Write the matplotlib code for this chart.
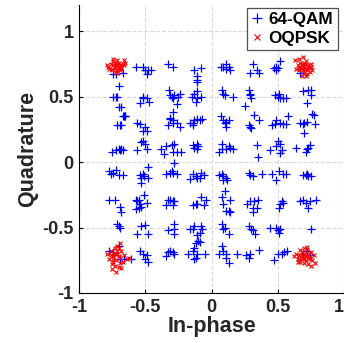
import matplotlib
matplotlib.use("Agg")
import matplotlib.pyplot as plt

plt.rcParams['font.family'] = ['Liberation Sans', 'DejaVu Sans']
plt.rcParams['font.weight'] = 'bold'

# 64-QAM received symbols, one list per constellation row (I, Q)
qam_row1 = [(-0.74, 0.67), (-0.72, 0.67), (-0.67, 0.68),
            (-0.57, 0.73), (-0.52, 0.73), (-0.50, 0.70), (-0.48, 0.70), (-0.46, 0.70), (-0.49, 0.67),
            (-0.33, 0.75), (-0.29, 0.73),
            (-0.13, 0.70), (-0.08, 0.72), (-0.11, 0.66), (-0.11, 0.63), (-0.11, 0.61),
            (0.07, 0.73), (0.09, 0.73), (0.11, 0.75), (0.13, 0.73), (0.14, 0.70), (0.11, 0.71),
            (0.31, 0.75), (0.29, 0.68), (0.34, 0.70), (0.36, 0.68),
            (0.47, 0.72), (0.49, 0.70), (0.50, 0.72), (0.52, 0.77), (0.49, 0.73),
            (0.67, 0.68), (0.70, 0.72)]
qam_row2 = [(-0.74, 0.50), (-0.72, 0.50), (-0.71, 0.50), (-0.70, 0.42), (-0.70, 0.58), (-0.68, 0.42),
            (-0.66, 0.35), (-0.65, 0.35),
            (-0.54, 0.45), (-0.52, 0.49), (-0.49, 0.49), (-0.47, 0.46), (-0.52, 0.50),
            (-0.32, 0.55), (-0.31, 0.51), (-0.30, 0.50), (-0.29, 0.49), (-0.28, 0.51), (-0.26, 0.44),
            (-0.25, 0.50), (-0.24, 0.52), (-0.31, 0.34), (-0.29, 0.32),
            (-0.15, 0.50), (-0.13, 0.52), (-0.11, 0.54), (-0.11, 0.49), (-0.12, 0.46), (-0.08, 0.50),
            (0.08, 0.55), (0.09, 0.52), (0.10, 0.51), (0.16, 0.50),
            (0.25, 0.43), (0.28, 0.55), (0.29, 0.51), (0.30, 0.49), (0.29, 0.52),
            (0.48, 0.51), (0.50, 0.50), (0.52, 0.49), (0.54, 0.49), (0.56, 0.49), (0.51, 0.52),
            (0.69, 0.54), (0.73, 0.55), (0.75, 0.55), (0.75, 0.51), (0.72, 0.45), (0.77, 0.36)]
qam_row3 = [(-0.71, 0.28), (-0.69, 0.28), (-0.68, 0.28), (-0.67, 0.35), (-0.65, 0.35),
            (-0.56, 0.30), (-0.54, 0.29), (-0.50, 0.27), (-0.49, 0.24), (-0.52, 0.24),
            (-0.33, 0.28), (-0.31, 0.33), (-0.29, 0.38), (-0.29, 0.30), (-0.26, 0.30), (-0.24, 0.27),
            (-0.16, 0.30), (-0.14, 0.30), (-0.13, 0.32), (-0.11, 0.33), (-0.09, 0.32), (-0.07, 0.33), (-0.14, 0.28),
            (0.07, 0.35), (0.09, 0.32), (0.11, 0.31), (0.11, 0.27), (0.13, 0.32), (0.10, 0.30),
            (0.28, 0.28), (0.29, 0.27), (0.30, 0.26), (0.32, 0.36), (0.36, 0.32),
            (0.46, 0.28), (0.48, 0.29), (0.49, 0.32), (0.52, 0.30), (0.54, 0.29), (0.56, 0.29), (0.58, 0.35),
            (0.67, 0.30), (0.69, 0.29), (0.70, 0.30), (0.72, 0.31), (0.70, 0.22), (0.76, 0.37), (0.78, 0.29)]
qam_row4 = [(-0.75, 0.08), (-0.72, 0.09), (-0.70, 0.10), (-0.69, 0.09), (-0.68, 0.10), (-0.67, 0.09),
            (-0.56, 0.09), (-0.53, 0.15), (-0.52, 0.16), (-0.50, 0.14), (-0.49, 0.10),
            (-0.38, 0.10), (-0.36, 0.06), (-0.34, 0.12), (-0.30, 0.13), (-0.28, 0.14), (-0.29, 0.08),
            (-0.26, 0.08), (-0.23, 0.08),
            (-0.14, 0.13), (-0.13, 0.11), (-0.11, 0.14), (-0.11, 0.10), (-0.10, 0.12),
            (0.06, 0.08), (0.08, 0.10), (0.08, 0.14), (0.11, 0.10), (0.13, 0.12), (0.14, 0.11), (0.16, 0.10),
            (0.34, 0.13), (0.35, 0.04),
            (0.44, 0.09), (0.49, 0.12), (0.50, 0.16), (0.52, 0.14), (0.52, 0.07), (0.53, 0.09),
            (0.64, 0.11), (0.71, 0.08), (0.72, 0.10), (0.73, 0.11), (0.74, 0.13)]
qam_row5 = [(-0.77, -0.07), (-0.76, -0.09), (-0.74, -0.08), (-0.72, -0.06), (-0.70, -0.10), (-0.67, -0.10),
            (-0.54, -0.10), (-0.52, -0.09), (-0.51, -0.11), (-0.48, -0.04), (-0.48, -0.12), (-0.53, -0.16),
            (-0.53, -0.12),
            (-0.34, -0.09), (-0.31, -0.08), (-0.30, -0.07), (-0.29, -0.08), (-0.28, -0.01), (-0.26, -0.09),
            (-0.16, -0.13), (-0.14, -0.09), (-0.12, -0.11), (-0.11, -0.12), (-0.09, -0.12), (-0.08, -0.08),
            (-0.06, -0.10),
            (0.06, -0.10), (0.08, -0.09), (0.09, -0.11), (0.11, -0.12), (0.09, -0.14), (0.12, -0.14),
            (0.28, -0.08), (0.29, -0.10), (0.31, -0.11), (0.38, -0.09),
            (0.46, -0.09), (0.49, -0.14), (0.51, -0.07), (0.54, -0.09), (0.56, -0.09),
            (0.69, -0.10), (0.71, -0.10), (0.73, -0.11), (0.75, -0.11), (0.72, -0.09)]
qam_row6 = [(-0.77, -0.29), (-0.73, -0.29), (-0.69, -0.34), (-0.68, -0.38),
            (-0.57, -0.29), (-0.56, -0.30), (-0.55, -0.29), (-0.54, -0.32), (-0.53, -0.34), (-0.51, -0.25),
            (-0.49, -0.31), (-0.57, -0.36), (-0.55, -0.35),
            (-0.34, -0.33), (-0.33, -0.29), (-0.31, -0.29), (-0.29, -0.30), (-0.28, -0.30), (-0.29, -0.33),
            (-0.14, -0.33), (-0.12, -0.32), (-0.11, -0.32), (-0.08, -0.27), (-0.06, -0.33), (-0.04, -0.29),
            (0.08, -0.27), (0.09, -0.32), (0.10, -0.22), (0.11, -0.37), (0.14, -0.29), (0.13, -0.37), (0.14, -0.38),
            (0.27, -0.32), (0.29, -0.30), (0.31, -0.35), (0.32, -0.30), (0.34, -0.35), (0.35, -0.29), (0.31, -0.38),
            (0.51, -0.35), (0.52, -0.32), (0.53, -0.30), (0.54, -0.31),
            (0.67, -0.30), (0.69, -0.29), (0.71, -0.31), (0.74, -0.30), (0.73, -0.35), (0.79, -0.29)]
qam_row7 = [(-0.71, -0.47), (-0.70, -0.49), (-0.69, -0.50),
            (-0.56, -0.55), (-0.53, -0.49), (-0.50, -0.48), (-0.48, -0.55),
            (-0.33, -0.52), (-0.28, -0.47), (-0.28, -0.51), (-0.28, -0.55),
            (-0.16, -0.51), (-0.14, -0.51), (-0.13, -0.49), (-0.11, -0.56), (-0.09, -0.54), (-0.08, -0.49),
            (-0.07, -0.51), (-0.10, -0.60), (-0.12, -0.62),
            (0.08, -0.47), (0.09, -0.51), (0.13, -0.55), (0.10, -0.50),
            (0.28, -0.49), (0.30, -0.51), (0.31, -0.52), (0.33, -0.55),
            (0.44, -0.50), (0.49, -0.50), (0.50, -0.52), (0.52, -0.51), (0.51, -0.54),
            (0.75, -0.51)]
qam_row8 = [(-0.77, -0.68), (-0.74, -0.69), (-0.70, -0.64), (-0.69, -0.74), (-0.66, -0.74), (-0.61, -0.74),
            (-0.54, -0.68), (-0.52, -0.70), (-0.49, -0.71), (-0.48, -0.76), (-0.50, -0.74),
            (-0.34, -0.72), (-0.33, -0.69), (-0.31, -0.68), (-0.29, -0.69), (-0.28, -0.70),
            (-0.18, -0.70), (-0.14, -0.68), (-0.13, -0.66), (-0.12, -0.73), (-0.11, -0.70), (-0.09, -0.61),
            (-0.05, -0.70), (-0.13, -0.74),
            (0.06, -0.70), (0.08, -0.64), (0.09, -0.68), (0.11, -0.70), (0.13, -0.77), (0.11, -0.73),
            (0.19, -0.70), (0.26, -0.71), (0.28, -0.73), (0.29, -0.70), (0.36, -0.67),
            (0.47, -0.75), (0.50, -0.70), (0.53, -0.70), (0.55, -0.69), (0.57, -0.68),
            (0.69, -0.70), (0.72, -0.68), (0.74, -0.71)]

# OQPSK received symbols, one cluster per corner
oqpsk_tl_x = [-0.78, -0.76, -0.75, -0.74, -0.73, -0.72, -0.71, -0.70, -0.69, -0.68, -0.67, -0.66, -0.74, -0.72, -0.70,
              -0.73, -0.71, -0.69, -0.75, -0.68, -0.72, -0.70, -0.74, -0.66, -0.77, -0.71, -0.73, -0.69, -0.65, -0.79]
oqpsk_tl_y = [0.73, 0.75, 0.71, 0.77, 0.72, 0.74, 0.70, 0.76, 0.73, 0.71, 0.75, 0.78, 0.74, 0.69, 0.72,
              0.76, 0.78, 0.74, 0.70, 0.72, 0.75, 0.73, 0.79, 0.74, 0.71, 0.68, 0.73, 0.70, 0.76, 0.74]
oqpsk_tr_x = [0.63, 0.65, 0.66, 0.67, 0.68, 0.69, 0.70, 0.71, 0.72, 0.73, 0.74, 0.75, 0.66, 0.68, 0.70,
              0.72, 0.74, 0.67, 0.69, 0.71, 0.73, 0.64, 0.76, 0.70, 0.68, 0.72, 0.66, 0.71, 0.75, 0.69]
oqpsk_tr_y = [0.78, 0.74, 0.70, 0.76, 0.72, 0.74, 0.68, 0.77, 0.71, 0.73, 0.69, 0.75, 0.79, 0.66, 0.72,
              0.67, 0.72, 0.73, 0.70, 0.75, 0.74, 0.71, 0.70, 0.76, 0.75, 0.70, 0.72, 0.66, 0.73, 0.80]
oqpsk_bl_x = [-0.79, -0.77, -0.76, -0.75, -0.74, -0.73, -0.72, -0.71, -0.70, -0.69, -0.68, -0.67, -0.66, -0.64, -0.62,
              -0.75, -0.73, -0.71, -0.69, -0.72, -0.74, -0.70, -0.76, -0.68, -0.73, -0.71, -0.70, -0.74, -0.72, -0.69]
oqpsk_bl_y = [-0.70, -0.74, -0.68, -0.78, -0.72, -0.66, -0.75, -0.70, -0.80, -0.73, -0.68, -0.76, -0.71, -0.74, -0.73,
              -0.82, -0.70, -0.64, -0.77, -0.84, -0.76, -0.72, -0.71, -0.81, -0.79, -0.68, -0.66, -0.74, -0.70, -0.62]
oqpsk_br_x = [0.62, 0.64, 0.65, 0.66, 0.67, 0.68, 0.69, 0.70, 0.71, 0.72, 0.73, 0.74, 0.75, 0.76, 0.78,
              0.66, 0.68, 0.70, 0.72, 0.74, 0.69, 0.71, 0.67, 0.73, 0.70, 0.75, 0.65, 0.72, 0.68, 0.77]
oqpsk_br_y = [-0.72, -0.70, -0.74, -0.71, -0.76, -0.69, -0.73, -0.66, -0.75, -0.71, -0.78, -0.72, -0.69, -0.75, -0.77,
              -0.73, -0.71, -0.77, -0.68, -0.74, -0.70, -0.72, -0.67, -0.73, -0.74, -0.79, -0.76, -0.65, -0.73, -0.71]

ticks = [-1, -0.5, 0, 0.5, 1]
tick_labels = ['-1', '-0.5', '0', '0.5', '1']

qam = qam_row1 + qam_row2 + qam_row3 + qam_row4 + qam_row5 + qam_row6 + qam_row7 + qam_row8
qam_x = [p[0] for p in qam]
qam_y = [p[1] for p in qam]
oq_x = oqpsk_tl_x + oqpsk_tr_x + oqpsk_bl_x + oqpsk_br_x
oq_y = oqpsk_tl_y + oqpsk_tr_y + oqpsk_bl_y + oqpsk_br_y

fig = plt.figure(figsize=(3.44, 3.43), dpi=100)
ax = fig.add_axes([0.2297, 0.1458, 0.7703, 0.8396])

ax.plot(qam_x, qam_y, '+', color='#0000ff', ms=5.5, mew=0.9, ls='none', label='64-QAM')
ax.plot(oq_x, oq_y, 'x', color='#ff0000', ms=3.5, mew=0.8, ls='none', label='OQPSK')

ax.set_xlim(-1, 1)
ax.set_ylim(-1, 1.2)
ax.set_xticks(ticks)
ax.set_xticklabels(tick_labels)
ax.set_yticks(ticks)
ax.set_yticklabels(tick_labels)
ax.grid(True, ls='--', color='#d9d9d9', lw=0.8)
ax.set_axisbelow(True)
for s in ['top', 'right']:
    ax.spines[s].set_visible(False)
ax.spines['left'].set_linewidth(0.8)
ax.spines['bottom'].set_linewidth(0.8)
ax.tick_params(direction='in', length=3, labelsize=13, width=0.8, pad=4)
for lab in ax.get_xticklabels() + ax.get_yticklabels():
    lab.set_fontweight('bold')
    lab.set_color('#262626')
# last x label sits on the figure edge
ax.get_xticklabels()[-1].set_horizontalalignment('right')

ax.set_xlabel('In-phase', fontsize=15.5, fontweight='bold', color='#262626', labelpad=0)
ax.set_ylabel('Quadrature', fontsize=15.5, fontweight='bold', color='#262626', labelpad=3)

leg = ax.legend(loc='upper right', bbox_to_anchor=(0.976, 0.99), fontsize=12.3, frameon=True, fancybox=False,
                handlelength=0.6, handletextpad=0.4, borderpad=0.25, labelspacing=0.2, borderaxespad=0,
                markerscale=1.2)
leg.get_frame().set_edgecolor('#262626')
leg.get_frame().set_linewidth(0.9)
for t in leg.get_texts():
    t.set_fontweight('bold')

fig.savefig('out.png', dpi=100)
